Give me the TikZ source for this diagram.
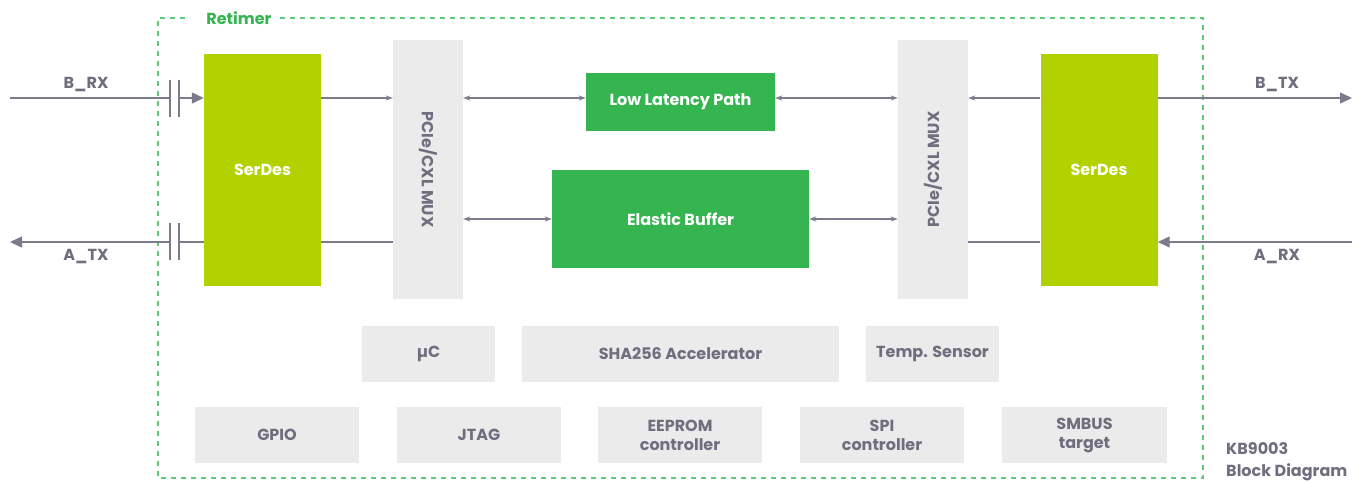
\documentclass[tikz,border=0pt]{standalone}
\usepackage{fontspec}
\setmainfont{Poppins}
\usetikzlibrary{arrows.meta}

\definecolor{lime}{HTML}{B2D200}
\definecolor{leaf}{HTML}{35B550}
\definecolor{dashgreen}{HTML}{5CC878}
\definecolor{panel}{HTML}{EBEBEB}
\definecolor{wire}{HTML}{7C7B8C}
\definecolor{ink}{HTML}{6F6E7E}

\tikzset{
  block/.style={inner sep=0pt, font=\bfseries\fontsize{16}{19}\selectfont, align=center},
  serdes/.style={block, fill=lime, text=white, minimum width=117pt, minimum height=232pt},
  mux/.style={block, fill=panel, text=ink, minimum width=70pt, minimum height=259pt},
  fast/.style={block, fill=leaf, text=white},
  ctrl/.style={block, fill=panel, text=ink, minimum height=56pt},
  pin/.style={font=\bfseries\fontsize{16}{19}\selectfont, text=ink, inner sep=0pt},
  wire/.style={draw=wire, line width=1.3pt},
  io/.style={wire, -{Triangle[length=12pt,width=11pt]}},
  bus/.style={wire, {Stealth[length=7pt,width=5pt]}-{Stealth[length=7pt,width=5pt]}},
  feed/.style={wire, -{Stealth[length=7pt,width=5pt]}},
  plate/.style={draw=wire, line width=1.3pt}
}

\begin{document}
\begin{tikzpicture}[x=1pt,y=-1pt]
  \useasboundingbox (0,0) rectangle (1362,480);

  % Retimer outline
  \draw[dashgreen, line width=1.5pt, dash pattern=on 5pt off 5pt]
    (230,18) -- (1203,18) -- (1203,478) -- (158,478) -- (158,18) -- (190,18);
  \node[pin, text=leaf, fill=white, inner xsep=6pt] (ret) at (239,18) {Retimer};

  % datapath
  \node[serdes] (sdl) at (262.5,170) {SerDes};
  \node[serdes] (sdr) at (1099,170) {SerDes};
  \node[mux] (muxl) at (428,169.5) {};
  \node[mux] (muxr) at (933,169.5) {};
  \node[block, text=ink, rotate=-90] at (muxl) {PCIe/CXL MUX};
  \node[block, text=ink, rotate=90] at (muxr) {PCIe/CXL MUX};
  \node[fast, minimum width=189pt, minimum height=58pt] (llp) at (680.5,102) {Low Latency Path};
  \node[fast, minimum width=257pt, minimum height=98pt] (ebuf) at (680.5,219) {Elastic Buffer};

  % side pins
  \coordinate (brx) at (10,98);
  \coordinate (atx) at (10,242);
  \coordinate (btx) at (1352,98);
  \coordinate (arx) at (1352,242);
  \node[pin] (lbrx) at (86,85) {B\_RX};
  \node[pin] (latx) at (86,257) {A\_TX};
  \node[pin] (lbtx) at (1277,85) {B\_TX};
  \node[pin] (larx) at (1277,257) {A\_RX};

  % AC coupling caps
  \coordinate (c1a) at (170,98);
  \coordinate (c1b) at (179,98);
  \coordinate (c2a) at (170,242);
  \coordinate (c2b) at (179,242);
  \draw[plate] (170,80) -- (170,117) (179,80) -- (179,117);
  \draw[plate] (170,223) -- (170,260) (179,223) -- (179,260);

  \draw[wire] (brx) -- (c1a);
  \draw[io] (c1b) -- (sdl.west |- brx);
  \draw[wire] (sdl.west |- atx) -- (c2b);
  \draw[io] (c2a) -- (atx);
  \draw[io] (sdr.east |- btx) -- (btx);
  \draw[io] (arx) -- (sdr.east |- arx);

  % inner links
  \draw[feed] (sdl.east |- brx) -- (muxl.west |- brx);
  \draw[wire] (muxl.west |- atx) -- (sdl.east |- atx);
  \draw[bus] (muxl.east |- brx) -- (llp.west |- brx);
  \draw[bus] (llp.east |- brx) -- (muxr.west |- brx);
  \draw[bus] (muxl.east |- ebuf) -- (ebuf.west);
  \draw[bus] (ebuf.east) -- (muxr.west |- ebuf);
  \draw[feed] (sdr.west |- btx) -- (muxr.east |- btx);
  \draw[wire] (muxr.east |- arx) -- (sdr.west |- arx);

  % housekeeping blocks
  \node[ctrl, minimum width=133pt] (uc) at (428.5,354) {µC};
  \node[ctrl, minimum width=317pt] (sha) at (680.5,354) {SHA256 Accelerator};
  \node[ctrl, minimum width=133pt] (temp) at (932.5,354) {Temp. Sensor};
  \node[ctrl, minimum width=164pt] (gpio) at (277,435) {GPIO};
  \node[ctrl, minimum width=164pt] (jtag) at (479,435) {JTAG};
  \node[ctrl, minimum width=164pt] (eep) at (680,435) {EEPROM\\controller};
  \node[ctrl, minimum width=164pt] (spi) at (882,435) {SPI\\controller};
  \node[ctrl, minimum width=165pt] (smb) at (1084.5,435) {SMBUS\\target};

  \node[pin, anchor=west, align=left] (title) at (1226,462)
    {KB9003\\[3pt]Block Diagram};
\end{tikzpicture}
\end{document}
